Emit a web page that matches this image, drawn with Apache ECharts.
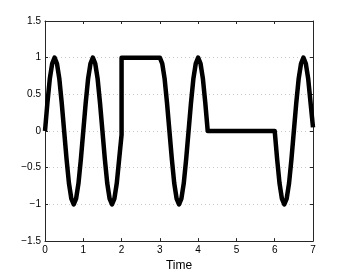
<!DOCTYPE html>
<html><head><meta charset="utf-8">
<script src="https://cdn.jsdelivr.net/npm/echarts@6/dist/echarts.min.js"></script>
<style>html,body{margin:0;padding:0;background:#fff;}#c{width:346px;height:277px;}</style>
</head><body><div id="c"></div>
<script>
const time = [
  0, 0.0625, 0.125, 0.1875, 0.25, 0.3125, 0.375, 0.4375, 0.5, 0.5625, 0.625, 0.6875, 0.75, 0.8125, 0.875, 0.9375,
  1, 1.0625, 1.125, 1.1875, 1.25, 1.3125, 1.375, 1.4375, 1.5, 1.5625, 1.625, 1.6875, 1.75, 1.8125, 1.875, 1.9375, 2,
  2, 3,
  3.0625, 3.125, 3.1875, 3.25, 3.3125, 3.375, 3.4375, 3.5, 3.5625, 3.625, 3.6875, 3.75, 3.8125, 3.875, 3.9375,
  4, 4.0625, 4.125, 4.1875, 4.25,
  6, 6.0625, 6.125, 6.1875, 6.25, 6.3125, 6.375, 6.4375, 6.5, 6.5625, 6.625, 6.6875, 6.75, 6.8125, 6.875, 6.9375, 7
];
const signal = [
  0, 0.38, 0.71, 0.92, 1, 0.92, 0.71, 0.38, 0, -0.38, -0.71, -0.92, -1, -0.92, -0.71, -0.38,
  0, 0.38, 0.71, 0.92, 1, 0.92, 0.71, 0.38, 0, -0.38, -0.71, -0.92, -1, -0.92, -0.71, -0.38, -0.05,
  1, 1,
  0.92, 0.71, 0.38, 0, -0.38, -0.71, -0.92, -1, -0.92, -0.71, -0.38, 0, 0.38, 0.71, 0.92,
  1, 0.92, 0.71, 0.38, 0,
  0, -0.38, -0.71, -0.92, -1, -0.92, -0.71, -0.38, 0, 0.38, 0.71, 0.92, 1, 0.92, 0.71, 0.38, 0.05
];
const xTicks = [0, 1, 2, 3, 4, 5, 6, 7];
const yTicks = [-1.5, -1, -0.5, 0, 0.5, 1, 1.5];
const xLabel = 'Time';

const fmt = v => (v < 0 ? '\u2212' + (-v) : String(v));
const font = 'Liberation Sans, Arial, Helvetica, sans-serif';
const lineC = '#262626';
const chart = echarts.init(document.getElementById('c'), null, {renderer: 'canvas'});
chart.setOption({
  backgroundColor: '#fff',
  animation: false,
  grid: {left: 45, right: 33, top: 21, bottom: 32, show: false},
  xAxis: [{
    type: 'value', min: xTicks[0], max: xTicks[xTicks.length - 1], interval: 1,
    name: xLabel, nameLocation: 'middle', nameGap: 18,
    nameTextStyle: {fontFamily: font, fontSize: 12, color: '#000'},
    axisLine: {show: true, onZero: false, lineStyle: {color: lineC, width: 1}},
    axisTick: {show: true, inside: true, length: 3, lineStyle: {color: lineC}},
    axisLabel: {fontFamily: font, fontSize: 10, color: '#000', margin: 4, formatter: fmt},
    splitLine: {show: false}
  }, {
    type: 'value', position: 'top', min: 0, max: 7, interval: 1,
    axisLine: {show: true, onZero: false, lineStyle: {color: lineC, width: 1}},
    axisTick: {show: true, inside: true, length: 3, lineStyle: {color: lineC}},
    axisLabel: {show: false}, splitLine: {show: false}
  }],
  yAxis: [{
    type: 'value', min: yTicks[0], max: yTicks[yTicks.length - 1], interval: 0.5,
    axisLine: {show: true, onZero: false, lineStyle: {color: lineC, width: 1}},
    axisTick: {show: true, inside: true, length: 3, lineStyle: {color: lineC}},
    axisLabel: {fontFamily: font, fontSize: 10, color: '#000', margin: 4, formatter: fmt},
    splitLine: {show: true, lineStyle: {color: '#c8c8c8', type: [1, 3], width: 1}}
  }, {
    type: 'value', position: 'right', min: -1.5, max: 1.5, interval: 0.5,
    axisLine: {show: true, onZero: false, lineStyle: {color: lineC, width: 1}},
    axisTick: {show: true, inside: true, length: 3, lineStyle: {color: lineC}},
    axisLabel: {show: false}, splitLine: {show: false}
  }],
  series: [{
    type: 'line',
    data: time.map((t, i) => [t, signal[i]]),
    showSymbol: false, symbol: 'none',
    lineStyle: {color: '#000', width: 4.5, join: 'round', cap: 'butt'},
    clip: true
  }]
});
</script></body></html>
